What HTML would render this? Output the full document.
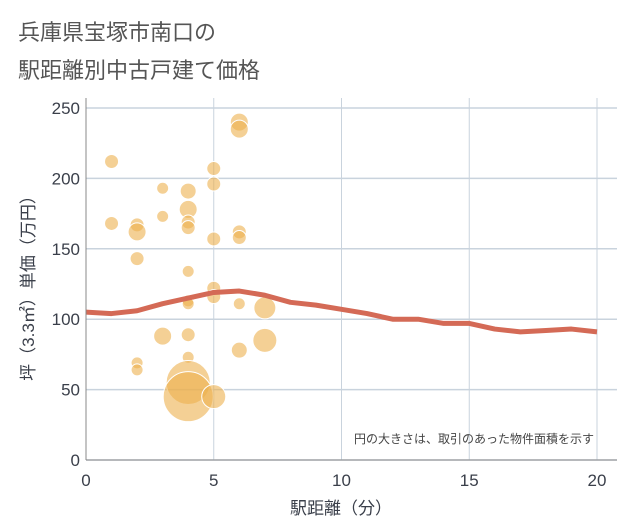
<!DOCTYPE html>
<html><head><meta charset="utf-8"><style>
body{margin:0;background:#fff;}
svg{display:block;font-family:"Liberation Sans","Noto Sans CJK JP",sans-serif;}
</style></head><body>
<svg id="c" width="621" height="530">
<rect x="0" y="0" width="621" height="530" fill="#fff"/>
<text x="18" y="40" font-size="22" fill="#555">兵庫県宝塚市南口の</text>
<text x="18" y="78" font-size="22" fill="#555">駅距離別中古戸建て価格</text>
<g id="grid"></g>
<g id="bubbles"></g>
<g id="line"></g>
<g id="axes"></g>
<text x="594" y="443" font-size="12" fill="#444" text-anchor="end">円の大きさは、取引のあった物件面積を示す</text>
<text x="341" y="514" font-size="17" fill="#3a3f4a" text-anchor="middle">駅距離（分）</text>
<text transform="translate(34,284) rotate(-90)" font-size="17" fill="#3a3f4a" text-anchor="middle">坪（3.3㎡）単価（万円）</text>
</svg>
<script>
const xTicks=[0,5,10,15,20];
const yTicks=[0,50,100,150,200,250];
const bubbleX=[1,1,2,2,2,2,2,3,3,3,4,4,4,4,4,4,4,4,4,4,4,5,5,5,5,5,5,6,6,6,6,6,6,7,7];
const bubbleY=[212,168,167,162,143,69,64,193,173,88,191,178,169,165,134,113,111,89,73,55,45,207,196,157,122,116,45,240,235,162,158,111,78,108,85];
const bubbleR=[7,7,7,9,7,6,6,6,6,9,8,9,7,7,6,6,6,7,6,22,25,7,7,7,7,7,12,9,9,7,7,6,8,11,12];
const lineX=[0,1,2,3,4,5,6,7,8,9,10,11,12,13,14,15,16,17,18,19,20];
const lineY=[105,104,106,111,115,119,120,117,112,110,107,104,100,100,97,97,93,91,92,93,91];
const L=86,R=597,T=108,B=460;
const sx=v=>L+(v-0)/20*(R-L);
const sy=v=>B-(v-0)/250*(B-T);
const NS='http://www.w3.org/2000/svg';
function mk(tag,parent,attrs){const e=document.createElementNS(NS,tag);for(const k in attrs)e.setAttribute(k,attrs[k]);parent.appendChild(e);return e;}
const grid=document.getElementById('grid'),axes=document.getElementById('axes');
xTicks.forEach(t=>{
 const g=mk('line',grid,{x1:sx(t),x2:sx(t),y1:T-10,y2:B,stroke:'#c9d3dd','stroke-width':1});
 
 
 const tx=mk('text',axes,{x:sx(t),y:B+26,'font-size':17,fill:'#3a3f4a','text-anchor':'middle'});
 tx.textContent=t;
 
 
});
yTicks.forEach(t=>{
 const g=mk('line',grid,{x1:L,x2:R+20,y1:sy(t),y2:sy(t),stroke:'#c9d3dd','stroke-width':1.5});
 
 
 const tx=mk('text',axes,{x:L-6,y:sy(t)+6,'font-size':17,fill:'#3a3f4a','text-anchor':'end'});
 tx.textContent=t;
 
 
});
const ya=mk('line',axes,{x1:L,x2:L,y1:T-10,y2:B,stroke:'#888','stroke-width':1});


const xa=mk('line',axes,{x1:L,x2:R+20,y1:B,y2:B,stroke:'#888','stroke-width':1});


const bg=document.getElementById('bubbles');
bubbleX.forEach((x,i)=>{
 const c=mk('circle',bg,{cx:sx(x),cy:sy(bubbleY[i]),r:bubbleR[i],fill:'#edb04f','fill-opacity':0.6,stroke:'#fff','stroke-width':1});
 
 
});
const d=lineX.map((x,i)=>(i?'L':'M')+sx(x)+','+sy(lineY[i])).join(' ');
const p=mk('path',document.getElementById('line'),{d:d,fill:'none',stroke:'#d46a56','stroke-width':5,'stroke-linejoin':'round'});


</script>
</body></html>
